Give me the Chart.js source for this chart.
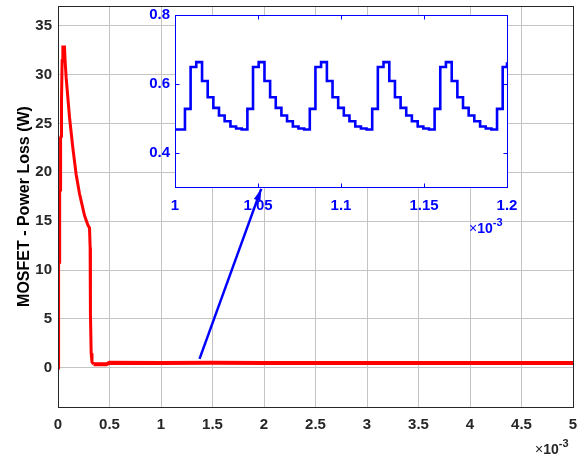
<!DOCTYPE html>
<html>
<head>
<meta charset="utf-8">
<script src="https://cdn.jsdelivr.net/npm/chart.js@4/dist/chart.umd.min.js"></script>
<style>
  body { margin: 0; background: #fff; }
  #wrap { position: relative; width: 584px; height: 458px; }
  #wrap canvas { position: absolute; left: 0; top: 0; }
</style>
</head>
<body>
<div id="wrap">
  <canvas id="mainChart" width="584" height="458"></canvas>
  <canvas id="zoomChart" width="584" height="458"></canvas>
</div>
<script>
// main trace, time in ms (axis is x10^-3 s), loss in W
const lossTime = [0, 0.005, 0.006, 0.015, 0.016, 0.024, 0.025, 0.031, 0.034, 0.040, 0.047, 0.063,
  0.069, 0.079, 0.112, 0.144, 0.176, 0.209, 0.231, 0.257, 0.290, 0.306, 0.312, 0.315, 0.322,
  0.330, 0.345, 0.47, 0.5, 1.0, 1.5, 2.0, 2.5, 3.0, 3.5, 4.0, 4.5, 5.0];
const lossValue = [0, 0.3, 10.7, 10.8, 18.0, 18.2, 23.5, 23.7, 27.3, 31.4, 32.8, 32.8,
  31.4, 29.7, 25.6, 22.5, 19.8, 17.8, 16.8, 15.6, 14.6, 14.3, 12.3, 5.5, 1.5,
  0.6, 0.37, 0.37, 0.52, 0.5, 0.52, 0.5, 0.5, 0.5, 0.5, 0.5, 0.5, 0.5];
const arrowTime = [1.374, 1.973];
const arrowValue = [0.92, 18.3];
const xTicks = [0, 0.5, 1, 1.5, 2, 2.5, 3, 3.5, 4, 4.5, 5];
const yTicks = [0, 5, 10, 15, 20, 25, 30, 35];

// zoomed window 1.0 - 1.2 ms
const zoomTime = [1.0000,
  1.0060, 1.0094, 1.0128, 1.0163, 1.0197, 1.0231, 1.0265, 1.0299, 1.0334, 1.0368, 1.0402,
  1.0436, 1.0470, 1.0504, 1.0539, 1.0573, 1.0607, 1.0641, 1.0675, 1.0710, 1.0744, 1.0778,
  1.0812, 1.0846, 1.0880, 1.0915, 1.0949, 1.0983, 1.1017, 1.1051, 1.1086, 1.1120, 1.1154,
  1.1188, 1.1222, 1.1256, 1.1291, 1.1325, 1.1359, 1.1393, 1.1427, 1.1462, 1.1496, 1.1530,
  1.1564, 1.1598, 1.1632, 1.1667, 1.1701, 1.1735, 1.1769, 1.1803, 1.1838, 1.1872, 1.1906,
  1.1940, 1.1974, 1.2000];
const zoomValue = [0.467,
  0.527, 0.649, 0.663, 0.608, 0.561, 0.530, 0.508, 0.491, 0.476, 0.470, 0.467,
  0.527, 0.649, 0.663, 0.608, 0.561, 0.530, 0.508, 0.491, 0.476, 0.470, 0.467,
  0.527, 0.649, 0.663, 0.608, 0.561, 0.530, 0.508, 0.491, 0.476, 0.470, 0.467,
  0.527, 0.649, 0.663, 0.608, 0.561, 0.530, 0.508, 0.491, 0.476, 0.470, 0.467,
  0.527, 0.649, 0.663, 0.608, 0.561, 0.530, 0.508, 0.491, 0.476, 0.470, 0.467,
  0.527, 0.649, 0.663];
const zoomXTicks = [1, 1.05, 1.1, 1.15, 1.2];
const zoomYTicks = [0.4, 0.6, 0.8];

const FONT = "'Liberation Sans', Arial, sans-serif";
const AXIS_COLOR = '#262626';
const BLUE = '#0000ff';

function setTicks(list) {
  return function (scale) {
    scale.ticks = list.map(v => ({ value: v }));
  };
}
function fixSize(w, h) {
  return function (scale) {
    if (w !== null) scale.width = w;
    if (h !== null) scale.height = h;
    scale.paddingLeft = 0;
    scale.paddingRight = 0;
    scale.paddingTop = 0;
    scale.paddingBottom = 0;
  };
}

// "x10^-3" label like matlab
function drawExponent(ctx, x, y, color) {
  ctx.save();
  ctx.fillStyle = color;
  ctx.textBaseline = 'alphabetic';
  ctx.textAlign = 'left';
  ctx.font = '14px ' + FONT;
  ctx.fillText('\u00d7', x, y);
  x += ctx.measureText('\u00d7').width;
  ctx.font = 'bold 14px ' + FONT;
  ctx.fillText('10', x, y);
  x += ctx.measureText('10').width;
  ctx.font = 'bold 11px ' + FONT;
  ctx.fillText('-3', x, y - 7);
  ctx.restore();
}

const mainDecor = {
  id: 'mainDecor',
  afterDatasetsDraw(chart) {
    const ctx = chart.ctx;
    const pts = chart.getDatasetMeta(1).data;
    const a = pts[0], b = pts[pts.length - 1];
    const ang = Math.atan2(b.y - a.y, b.x - a.x);
    const len = 12, half = 3.5;
    ctx.save();
    ctx.fillStyle = BLUE;
    ctx.beginPath();
    ctx.moveTo(b.x, b.y);
    ctx.lineTo(b.x - len * Math.cos(ang) - half * Math.sin(ang), b.y - len * Math.sin(ang) + half * Math.cos(ang));
    ctx.lineTo(b.x - len * Math.cos(ang) + half * Math.sin(ang), b.y - len * Math.sin(ang) - half * Math.cos(ang));
    ctx.closePath();
    ctx.fill();
    ctx.restore();
  },
  afterDraw(chart) {
    const ctx = chart.ctx;
    const ca = chart.chartArea;
    ctx.save();
    ctx.strokeStyle = AXIS_COLOR;
    ctx.lineWidth = 1;
    ctx.strokeRect(Math.round(ca.left) + 0.5, Math.round(ca.top) + 0.5,
      Math.round(ca.right - ca.left), Math.round(ca.bottom - ca.top));
    ctx.restore();
    drawExponent(ctx, ca.right - 38, ca.bottom + 47, AXIS_COLOR);
  }
};

new Chart(document.getElementById('mainChart'), {
  type: 'line',
  data: {
    datasets: [
      {
        data: lossTime.map((t, i) => ({ x: t, y: lossValue[i] })),
        borderColor: '#ff0000',
        borderWidth: 3,
        pointRadius: 0,
        tension: 0,
        segment: { borderWidth: ctx => ctx.p0.parsed.x >= 0.34 ? 4 : 3 }
      },
      {
        data: arrowTime.map((t, i) => ({ x: t, y: arrowValue[i] })),
        borderColor: BLUE,
        borderWidth: 2.5,
        pointRadius: 0
      }
    ]
  },
  options: {
    responsive: false,
    animation: false,
    devicePixelRatio: 1,
    layout: { padding: { left: 0, top: 6, right: 11, bottom: 0 } },
    plugins: { legend: { display: false }, tooltip: { enabled: false } },
    scales: {
      x: {
        type: 'linear',
        min: 0,
        max: 5,
        afterBuildTicks: setTicks(xTicks),
        afterFit: fixSize(null, 51),
        grid: { color: '#c4c4c4', drawTicks: false },
        border: { display: false },
        ticks: {
          padding: 9,
          color: AXIS_COLOR,
          font: { family: FONT, size: 15, weight: 'bold' },
          maxRotation: 0,
          autoSkip: false,
          callback: v => String(v)
        }
      },
      y: {
        min: -4,
        max: 37,
        afterBuildTicks: setTicks(yTicks),
        afterFit: fixSize(58, null),
        grid: { color: '#c4c4c4', drawTicks: false },
        border: { display: false },
        ticks: {
          padding: 6,
          color: AXIS_COLOR,
          font: { family: FONT, size: 15, weight: 'bold' },
          autoSkip: false,
          callback: v => String(v)
        },
        title: {
          display: true,
          text: 'MOSFET - Power Loss (W)',
          color: '#000',
          font: { family: FONT, size: 16, weight: 'bold' },
          padding: { top: 15, bottom: 0 }
        }
      }
    }
  },
  plugins: [mainDecor]
});

const zoomDecor = {
  id: 'zoomDecor',
  beforeDraw(chart) {
    const ca = chart.chartArea;
    chart.ctx.save();
    chart.ctx.fillStyle = '#fff';
    chart.ctx.fillRect(ca.left, ca.top, ca.right - ca.left, ca.bottom - ca.top);
    chart.ctx.restore();
  },
  afterDraw(chart) {
    const ctx = chart.ctx;
    const ca = chart.chartArea;
    const l = Math.round(ca.left) + 0.5, t = Math.round(ca.top) + 0.5;
    const r = Math.round(ca.right) + 0.5, b = Math.round(ca.bottom) + 0.5;
    ctx.save();
    ctx.strokeStyle = BLUE;
    ctx.lineWidth = 1;
    ctx.strokeRect(l, t, r - l, b - t);
    ctx.beginPath();
    const tick = 4;
    zoomXTicks.forEach(v => {
      const px = Math.round(chart.scales.x.getPixelForValue(v)) + 0.5;
      ctx.moveTo(px, b); ctx.lineTo(px, b - tick);
      ctx.moveTo(px, t); ctx.lineTo(px, t + tick);
    });
    zoomYTicks.forEach(v => {
      const py = Math.round(chart.scales.y.getPixelForValue(v)) + 0.5;
      ctx.moveTo(l, py); ctx.lineTo(l + tick, py);
      ctx.moveTo(r, py); ctx.lineTo(r - tick, py);
    });
    ctx.stroke();
    ctx.restore();
    drawExponent(ctx, ca.right - 38, ca.bottom + 46, BLUE);
  }
};

new Chart(document.getElementById('zoomChart'), {
  type: 'line',
  data: {
    datasets: [{
      data: zoomTime.map((t, i) => ({ x: t, y: zoomValue[i] })),
      borderColor: BLUE,
      borderWidth: 2.6,
      pointRadius: 0,
      stepped: 'before'
    }]
  },
  options: {
    responsive: false,
    animation: false,
    devicePixelRatio: 1,
    layout: { padding: { left: 140, top: 15, right: 77, bottom: 236 } },
    plugins: { legend: { display: false }, tooltip: { enabled: false } },
    scales: {
      x: {
        type: 'linear',
        min: 1,
        max: 1.2,
        afterBuildTicks: setTicks(zoomXTicks),
        afterFit: fixSize(null, 35),
        grid: { display: false, drawTicks: false },
        border: { display: false },
        ticks: {
          padding: 10,
          color: BLUE,
          font: { family: FONT, size: 15, weight: 'bold' },
          maxRotation: 0,
          autoSkip: false,
          callback: v => String(v)
        }
      },
      y: {
        min: 0.3,
        max: 0.8,
        afterBuildTicks: setTicks(zoomYTicks),
        afterFit: fixSize(35, null),
        grid: { display: false, drawTicks: false },
        border: { display: false },
        ticks: {
          padding: 5,
          color: BLUE,
          font: { family: FONT, size: 15, weight: 'bold' },
          autoSkip: false,
          callback: v => String(v)
        }
      }
    }
  },
  plugins: [zoomDecor]
});
</script>
</body>
</html>
